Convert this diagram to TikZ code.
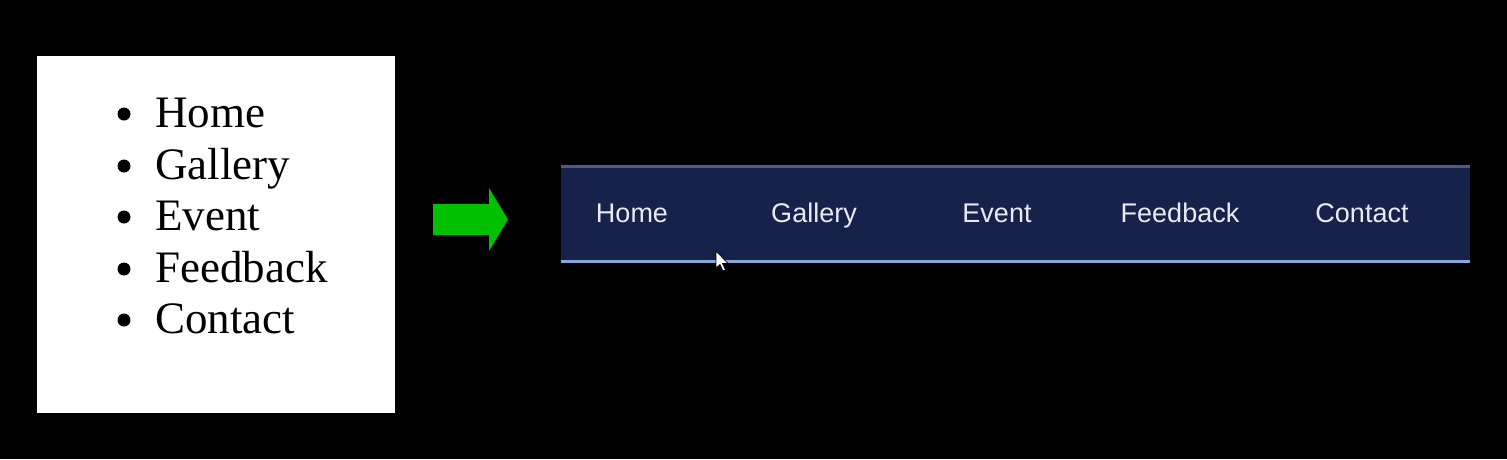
\documentclass[tikz,border=0pt]{standalone}
\usepackage{fontspec}
\setmainfont{Liberation Serif}
\newfontfamily\navfont{Liberation Sans}
\definecolor{navbg}{HTML}{17224A}
\definecolor{navtop}{HTML}{4A5A8E}
\definecolor{navbot}{HTML}{8AA6D6}
\definecolor{navtxt}{HTML}{E8ECF2}
\definecolor{arrowgreen}{HTML}{00C000}
\tikzset{
  listitem/.style={anchor=base west, inner sep=0pt, font=\fontsize{45}{45}\selectfont, text=black},
  bulletdot/.style={circle, fill=black, inner sep=0pt, minimum size=13pt},
  navitem/.style={anchor=base, inner sep=0pt, font=\navfont\fontsize{27}{27}\selectfont, text=navtxt},
}
\begin{document}
\begin{tikzpicture}[x=1pt,y=-1pt]
\fill[black] (0,0) rectangle (1507,459);
\useasboundingbox (0,0) rectangle (1507,459);
% white list box
\node[draw=none, fill=white, minimum width=358pt, minimum height=357pt, inner sep=0pt, anchor=north west] (box) at (37,56) {};
\foreach \t/\y/\n in {Home/127/a, Gallery/179/b, Event/230/c, Feedback/282/d, Contact/333/e}{
  \node[listitem] (t\n) at (155,\y) {\t};
  \node[bulletdot] (b\n) at (124,\y-13) {};
}
% green arrow
\node[inner sep=0pt] (arr) at (470,219) {};
\fill[arrowgreen] (433,204) -- (489,204) -- (489,188) -- (508,219.5) -- (489,251) -- (489,235) -- (433,235) -- cycle;
% navbar
\node[fill=navbg, minimum width=909pt, minimum height=97pt, inner sep=0pt, anchor=north west] (nav) at (561,165) {};
\fill[navtop] (561,165) rectangle (1470,167.5);
\fill[navbot] (561,259.5) rectangle (1470,262.5);
\foreach \t/\x/\n in {Home/632/a, Gallery/814/b, Event/997/c, Feedback/1180/d, Contact/1362/e}{
  \node[navitem] (n\n) at (\x,222) {\t};
}
% mouse cursor
\filldraw[fill=white, draw=black, line width=0.7pt, line join=round]
  (716,251) -- (716,268) -- (720,264.5) -- (723,271) -- (725.5,270) -- (722.5,263.5) -- (728,263.5) -- cycle;
\end{tikzpicture}
\end{document}
